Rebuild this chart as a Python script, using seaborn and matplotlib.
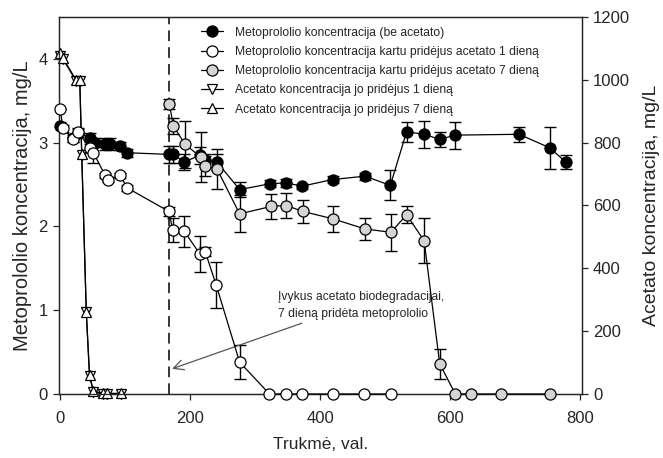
import numpy as np
import pandas as pd
import matplotlib
matplotlib.use("Agg")
import matplotlib.pyplot as plt
import seaborn as sns

# --- data ---
black_x = [0, 20, 27, 45, 54, 69, 77, 92, 103, 167, 174, 191, 215, 223, 241, 276, 323, 348, 372, 419, 469, 508, 533, 560, 584, 608, 706, 753, 778]
black_y = [3.2, 3.05, 3.12, 3.06, 3.0, 2.98, 2.98, 2.96, 2.88, 2.86, 2.86, 2.77, 2.85, 2.79, 2.77, 2.44, 2.51, 2.52, 2.48, 2.56, 2.6, 2.49, 3.13, 3.10, 3.04, 3.09, 3.10, 2.94, 2.77]
black_e = [0.05, 0.04, 0.05, 0.05, 0.05, 0.07, 0.07, 0.05, 0.05, 0.1, 0.1, 0.1, 0.1, 0.08, 0.1, 0.09, 0.04, 0.05, 0.03, 0.04, 0.04, 0.18, 0.12, 0.16, 0.09, 0.16, 0.09, 0.25, 0.08]

white_x = [0, 4, 20, 27, 45, 51, 69, 74, 92, 103, 167, 173, 191, 215, 223, 240, 276, 322, 348, 372, 420, 468, 509]
white_y = [3.4, 3.17, 3.04, 3.13, 2.94, 2.88, 2.61, 2.56, 2.61, 2.46, 2.18, 1.96, 1.94, 1.67, 1.70, 1.30, 0.38, 0, 0, 0, 0, 0, 0]
white_e = [0, 0.04, 0.03, 0.03, 0.05, 0.12, 0.03, 0.03, 0.03, 0.04, 0.05, 0.14, 0.18, 0.21, 0.05, 0.27, 0.2, 0, 0, 0, 0, 0, 0]

gray_x = [168, 174, 192, 216, 223, 241, 276, 325, 348, 373, 420, 469, 509, 533, 560, 584, 608, 632, 679, 753]
gray_y = [3.46, 3.2, 2.98, 2.83, 2.72, 2.69, 2.15, 2.24, 2.25, 2.18, 2.09, 1.97, 1.93, 2.14, 1.83, 0.36, 0, 0, 0, 0]
gray_e = [0.06, 0.1, 0.28, 0.3, 0.12, 0.24, 0.22, 0.15, 0.15, 0.14, 0.16, 0.13, 0.22, 0.1, 0.27, 0.18, 0, 0, 0, 0]

acet1_x = [0, 4, 24, 30, 33, 40, 45, 51, 65, 72, 94]
acet1_y = [1076, 1067, 997, 997, 760, 260, 57, 7, 0, 0, 0]
acet7_x = [0, 4, 24, 30, 33, 40, 45, 51, 65, 72, 94]
acet7_y = [1085, 1070, 1000, 1000, 765, 262, 60, 10, 2, 2, 2]

labels = ["Metoprololio koncentracija (be acetato)",
          "Metoprololio koncentracija kartu pridėjus acetato 1 dieną",
          "Metoprololio koncentracija kartu pridėjus acetato 7 dieną",
          "Acetato koncentracija jo pridėjus 1 dieną",
          "Acetato koncentracija jo pridėjus 7 dieną"]

sns.set_style("ticks")
plt.rcParams['font.family'] = ['Liberation Sans', 'DejaVu Sans']

fig = plt.figure(figsize=(6.63, 4.58), dpi=100)
ax = fig.add_axes([59/663, 1-394/458, (582-59)/663, (394-17)/458])
ax2 = ax.twinx()

ms = 8
ekw = dict(fmt='none', ecolor='black', elinewidth=1, capsize=4, capthick=1, zorder=2)

def series(axis, x, y, e, fc, marker, label, z, size=ms):
    df = pd.DataFrame({'x': x, 'y': y})
    sns.lineplot(data=df, x='x', y='y', ax=axis, estimator=None, sort=False,
                 color='black', linewidth=0.9, marker=marker, markersize=size,
                 markerfacecolor=fc, markeredgecolor='black', markeredgewidth=0.9,
                 label=label, zorder=z, clip_on=False)
    if e is not None:
        axis.errorbar(x, y, yerr=e, **ekw)

series(ax, black_x, black_y, black_e, 'black', 'o', labels[0], 3)
series(ax, white_x, white_y, white_e, 'white', 'o', labels[1], 4)
series(ax, gray_x, gray_y, gray_e, '#d4d4d4', 'o', labels[2], 5)
series(ax2, acet1_x, acet1_y, None, 'white', 'v', labels[3], 3, 7.5)
series(ax2, acet7_x, acet7_y, None, 'white', '^', labels[4], 4, 7.5)

ax.set_xlim(-2, 803)
ax.set_ylim(0, 4.5)
ax2.set_ylim(0, 1200)
ax.set_xticks([0, 200, 400, 600, 800])
ax.set_yticks([0, 1, 2, 3, 4])
ax2.set_yticks([0, 200, 400, 600, 800, 1000, 1200])

ax.axvline(168, color='black', linestyle=(0, (7, 4)), linewidth=1.1, zorder=1)

for a in (ax, ax2):
    for s in a.spines.values():
        s.set_linewidth(0.9)
    a.tick_params(labelsize=12, width=0.9, length=4, direction='out', pad=4)
ax.tick_params(axis='x', pad=8)

ax.set_xlabel("Trukmė, val.", fontsize=12.5, labelpad=8)
ax.set_ylabel("Metoprololio koncentracija, mg/L", fontsize=14.5, labelpad=5)
ax2.set_ylabel("Acetato koncentracija, mg/L", fontsize=14, labelpad=9)

ax.annotate("Įvykus acetato biodegradacijai,\n7 dieną pridėta metoprololio",
            xy=(168, 0.29), xytext=(335, 1.23), fontsize=8.7, va='top', ha='left',
            linespacing=1.55,
            arrowprops=dict(arrowstyle='->', color='#555555', lw=0.9, shrinkA=0,
                            relpos=(0.2, 0.0), mutation_scale=18))

h1, l1 = ax.get_legend_handles_labels()
h2, l2 = ax2.get_legend_handles_labels()
if ax2.get_legend():
    ax2.get_legend().remove()
ax.legend(h1 + h2, l1 + l2, loc='upper left', bbox_to_anchor=(0.253, 1.0), frameon=False,
          fontsize=8.7, handlelength=1.8, handletextpad=1.0, labelspacing=0.6,
          borderaxespad=0.4)
ax.set_zorder(ax2.get_zorder() + 1)
ax.patch.set_visible(False)

fig.savefig("out.png", dpi=100)
